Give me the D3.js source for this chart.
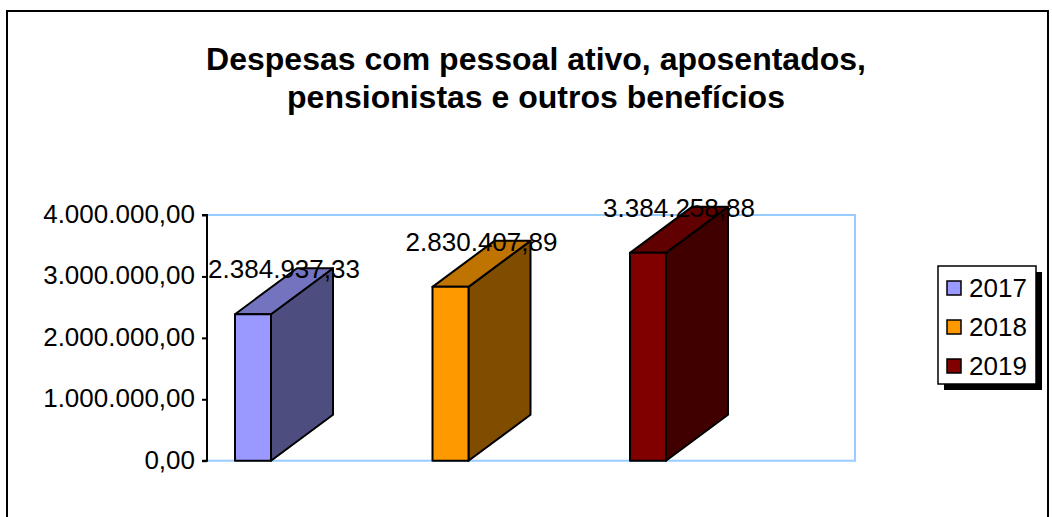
<!DOCTYPE html>
<html><head><meta charset="utf-8">
<script src="https://cdn.jsdelivr.net/npm/d3@7"></script>
<style>html,body{margin:0;padding:0;background:#fff;}svg{display:block;font-family:Arial,"Liberation Sans",sans-serif;}</style>
</head><body>
<svg id="c" width="1052" height="517"></svg>
<script>
const titleLines = ["Despesas com pessoal ativo, aposentados,", "pensionistas e outros benefícios"];
const categories = ["2017", "2018", "2019"];
const values = [2384937.33, 2830407.89, 3384258.88];
const valueLabels = ["2.384.937,33", "2.830.407,89", "3.384.258,88"];
const tickValues = [0, 1000000, 2000000, 3000000, 4000000];
const tickLabels = ["0,00", "1.000.000,00", "2.000.000,00", "3.000.000,00", "4.000.000,00"];
const frontColors = ["#9999ff", "#ff9900", "#800000"];
const topColors = ["#7373bf", "#bf7300", "#600000"];
const sideColors = ["#4d4d80", "#804d00", "#400000"];

const svg = d3.select("#c");
// outer frame
svg.append("rect").attr("x", 7).attr("y", 11).attr("width", 1041).attr("height", 530)
  .attr("fill", "none").attr("stroke", "#000").attr("stroke-width", 2);

// title
svg.append("g").selectAll("text").data(titleLines).join("text")
  .attr("x", 536).attr("y", (d, i) => 70 + i * 38)
  .attr("text-anchor", "middle").attr("font-weight", "bold").attr("font-size", 32)
  .text(d => d);

const y = d3.scaleLinear().domain([0, 4000000]).range([460.7, 215]);
const x = d3.scalePoint().domain(categories).range([253, 648]);
const bw = 36, dx = 62, dy = -46;

// plot area (light blue)
svg.append("rect").attr("x", 207).attr("y", y(4000000)).attr("width", 855 - 207)
  .attr("height", y(0) - y(4000000)).attr("fill", "none").attr("stroke", "#99ccff").attr("stroke-width", 2);

// axis
const axis = d3.axisLeft(y).tickValues(tickValues).tickFormat((d, i) => tickLabels[i]).tickSize(5).tickPadding(7);
const ag = svg.append("g").attr("transform", "translate(207,0)").call(axis);
ag.select(".domain").attr("stroke", "#000").attr("stroke-width", 2).attr("d", `M-5,${y(4000000)}H0V${y(0)}H-5`);
ag.selectAll(".tick line").attr("stroke", "#000").attr("stroke-width", 2);
ag.selectAll(".tick text").attr("font-size", 26).attr("font-family", "Arial, 'Liberation Sans', sans-serif")
  .attr("fill", "#000").attr("dy", "0.29em");

// bars
const bars = svg.append("g").selectAll("g").data(values).join("g");
bars.each(function (v, i) {
  const g = d3.select(this);
  const x0 = x(categories[i]) - bw / 2, x1 = x0 + bw;
  const yt = y(v), yb = y(0);
  const st = { stroke: "#000", "stroke-width": 2, "stroke-linejoin": "round" };
  const add = (pts, fill) => {
    const p = g.append("polygon").attr("points", pts.map(p => p.join(",")).join(" ")).attr("fill", fill);
    for (const k in st) p.attr(k, st[k]);
  };
  add([[x1, yb], [x1 + dx, yb + dy], [x1 + dx, yt + dy], [x1, yt]], sideColors[i]);
  add([[x0, yt], [x1, yt], [x1 + dx, yt + dy], [x0 + dx, yt + dy]], topColors[i]);
  add([[x0, yb], [x1, yb], [x1, yt], [x0, yt]], frontColors[i]);
});

// value labels
svg.append("g").selectAll("text").data(values).join("text")
  .attr("x", (d, i) => x(categories[i]) + dx / 2)
  .attr("y", d => y(d) + dy + 10)
  .attr("text-anchor", "middle").attr("font-size", 26)
  .text((d, i) => valueLabels[i]);

// legend
const lg = svg.append("g").attr("transform", "translate(938,266)");
lg.append("rect").attr("x", 6).attr("y", 6).attr("width", 98).attr("height", 118).attr("fill", "#000");
lg.append("rect").attr("x", 0).attr("y", 0).attr("width", 98).attr("height", 118).attr("fill", "#fff")
  .attr("stroke", "#000").attr("stroke-width", 1.5);
const items = lg.selectAll("g.it").data(categories).join("g").attr("class", "it")
  .attr("transform", (d, i) => `translate(0,${22 + i * 39})`);
items.append("rect").attr("x", 9).attr("y", -7).attr("width", 14).attr("height", 14)
  .attr("fill", (d, i) => frontColors[i]).attr("stroke", "#000").attr("stroke-width", 1.5);
items.append("text").attr("x", 31).attr("y", 8.5).attr("font-size", 26).text(d => d);
</script>
</body></html>
